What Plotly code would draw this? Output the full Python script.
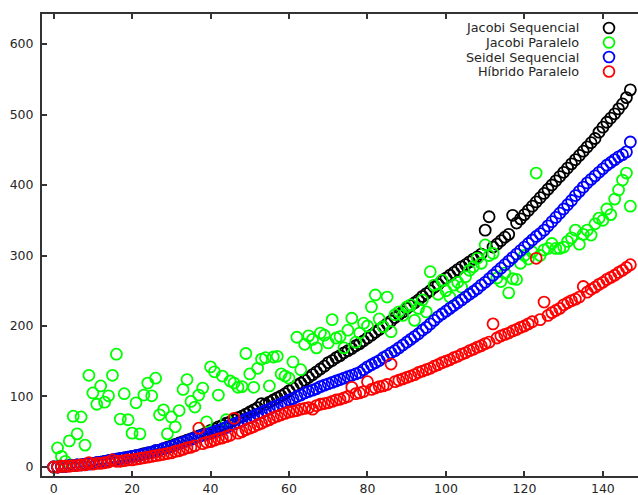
import plotly.graph_objects as go

# ---- data ----
jacobi_seq = [
    0, 0, 1, 1, 2, 2, 3, 3, 4, 5,
    5, 6, 7, 8, 9, 10, 11, 12, 13, 14,
    15, 16, 17, 19, 20, 21, 23, 24, 26, 28,
    30, 32, 34, 36, 38, 40, 42, 44, 46, 49,
    52, 54, 57, 59, 62, 64, 67, 70, 72, 75,
    78, 81, 84, 90, 89, 92, 95, 98, 101, 104,
    108, 112, 116, 119, 123, 127, 131, 135, 139, 143,
    148, 151, 155, 158, 162, 165, 168, 172, 175, 179,
    183, 187, 191, 195, 199, 203, 207, 212, 216, 220,
    225, 229, 233, 237, 242, 246, 250, 255, 259, 264,
    268, 272, 276, 280, 284, 287, 291, 295, 298, 302,
    336, 355, 312, 316, 321, 326, 330, 357, 346, 352,
    358, 364, 370, 376, 382, 388, 394, 400, 406, 412,
    418, 424, 430, 436, 442, 448, 454, 460, 466, 475,
    482, 489, 495, 501, 508, 515, 524, 535,
]

jacobi_par = [
    0, 27, 15, 8, 37, 72, 47, 71, 31, 130,
    105, 89, 115, 92, 101, 130, 160, 68, 104, 67,
    48, 91, 47, 102, 119, 101, 126, 74, 81, 47,
    71, 57, 80, 110, 124, 93, 85, 102, 112, 64,
    142, 135, 102, 129, 67, 122, 119, 113, 114, 161,
    132, 113, 140, 153, 155, 115, 156, 157, 132, 129,
    126, 149, 184, 138, 174, 186, 181, 169, 190, 187,
    176, 209, 183, 185, 169, 194, 211, 177, 190, 204,
    200, 227, 244, 210, 199, 241, 192, 216, 220, 215,
    227, 230, 208, 225, 237, 220, 277, 258, 245, 265,
    250, 241, 258, 262, 255, 270, 279, 284, 296, 289,
    315, 300, 303, 268, 263, 275, 247, 267, 266, 289,
    300, 295, 305, 417, 300, 308, 310, 317, 310, 310,
    312, 320, 325, 336, 316, 330, 336, 329, 345, 353,
    350, 366, 358, 380, 393, 407, 417, 370,
]

seidel_seq = [
    0, 0, 1, 1, 2, 2, 3, 3, 4, 4,
    5, 6, 7, 8, 9, 10, 11, 12, 13, 14,
    15, 16, 17, 18, 20, 21, 23, 24, 26, 27,
    29, 31, 33, 35, 37, 39, 41, 43, 45, 46,
    48, 50, 52, 54, 56, 59, 61, 63, 65, 68,
    70, 72, 75, 77, 80, 82, 85, 87, 90, 92,
    95, 97, 100, 102, 105, 107, 109, 111, 114, 116,
    118, 120, 122, 124, 126, 128, 130, 132, 134, 138,
    142, 145, 148, 151, 155, 158, 162, 165, 169, 173,
    177, 181, 185, 189, 194, 198, 203, 208, 213, 217,
    221, 225, 229, 233, 237, 241, 245, 249, 253, 258,
    262, 267, 272, 277, 282, 287, 292, 297, 302, 307,
    312, 317, 322, 327, 331, 336, 342, 348, 354, 360,
    366, 372, 378, 385, 391, 397, 403, 408, 413, 418,
    423, 428, 432, 436, 440, 443, 447, 461,
]

hibrido_par = [
    0, 0, 1, 1, 1, 2, 2, 3, 3, 6,
    4, 5, 5, 6, 7, 10, 8, 8, 9, 10,
    10, 11, 12, 13, 14, 15, 16, 17, 18, 19,
    20, 22, 23, 25, 27, 28, 30, 55, 33, 35,
    36, 38, 40, 41, 43, 45, 69, 48, 50, 53,
    55, 57, 60, 62, 65, 67, 70, 72, 74, 76,
    78, 79, 80, 82, 83, 84, 82, 87, 89, 90,
    91, 93, 95, 96, 98, 100, 113, 104, 105, 107,
    121, 110, 112, 114, 115, 117, 146, 121, 123, 125,
    127, 129, 131, 134, 136, 138, 140, 143, 145, 148,
    150, 152, 155, 157, 160, 162, 165, 167, 170, 172,
    175, 177, 203, 183, 186, 188, 190, 193, 195, 198,
    200, 203, 206, 296, 209, 234, 215, 219, 222, 225,
    230, 233, 236, 238, 241, 256, 248, 252, 255, 259,
    262, 266, 269, 272, 276, 279, 283, 287,
]

series_names = ["Jacobi Sequencial", "Jacobi Paralelo", "Seidel Sequencial", "Híbrido Paralelo"]
series_data = [jacobi_seq, jacobi_par, seidel_seq, hibrido_par]
series_colors = ["#000000", "#00ff00", "#0000ff", "#ff0000"]

x_ticks = [0, 20, 40, 60, 80, 100, 120, 140]
y_ticks = [0, 100, 200, 300, 400, 500, 600]

FONT = "DejaVu Sans"
AXIS_COLOR = "#333333"
TEXT_COLOR = "#262626"

fig = go.Figure()
for name, ys, col in zip(series_names, series_data, series_colors):
    fig.add_trace(go.Scatter(
        x=list(range(len(ys))), y=ys, mode="markers", name=name,
        marker=dict(symbol="circle-open", size=11, color=col,
                    line=dict(width=1.8, color=col)),
        showlegend=False,
    ))

# custom legend: right-aligned text with the symbol on its right
L, R, T, B = 42, 0, 14, 19
W, H = 638, 495
pw, ph = W - L - R, H - T - B
legend_rows_py = [28, 42.5, 57, 71.5]
for name, col, py in zip(series_names, series_colors, legend_rows_py):
    ypap = (H - B - py) / ph
    fig.add_annotation(
        xref="paper", yref="paper", x=(581 - L) / pw, y=ypap,
        text=name, showarrow=False, xanchor="right", yanchor="middle",
        font=dict(family=FONT, size=12.8, color=TEXT_COLOR),
    )
    fig.add_shape(
        type="circle", xref="paper", yref="paper",
        xsizemode="pixel", ysizemode="pixel",
        xanchor=(609 - L) / pw, yanchor=ypap,
        x0=-5.4, x1=5.4, y0=-5.4, y1=5.4,
        line=dict(color=col, width=1.8),
    )

fig.update_layout(
    width=W, height=H,
    margin=dict(l=L, r=R, t=T, b=B, pad=0),
    paper_bgcolor="white", plot_bgcolor="white",
    font=dict(family=FONT, size=12.5, color=TEXT_COLOR),
    showlegend=False,
)
fig.update_xaxes(
    range=[-2.96, 148.95], tickvals=x_ticks, ticks="inside", ticklen=5,
    tickwidth=1.5, tickcolor=AXIS_COLOR, showline=True, linewidth=2,
    linecolor=AXIS_COLOR, mirror="ticks", showgrid=False, zeroline=False,
    tickfont=dict(family=FONT, size=12.5, color=TEXT_COLOR),
)
fig.update_yaxes(
    range=[-12.8, 642.6], tickvals=y_ticks, ticks="inside", ticklen=5,
    tickwidth=1.5, tickcolor=AXIS_COLOR, showline=True, linewidth=2,
    linecolor=AXIS_COLOR, mirror=False, showgrid=False, zeroline=False,
    ticklabelstandoff=4,
    tickfont=dict(family=FONT, size=12.5, color=TEXT_COLOR),
)

fig.write_html("out.html")
